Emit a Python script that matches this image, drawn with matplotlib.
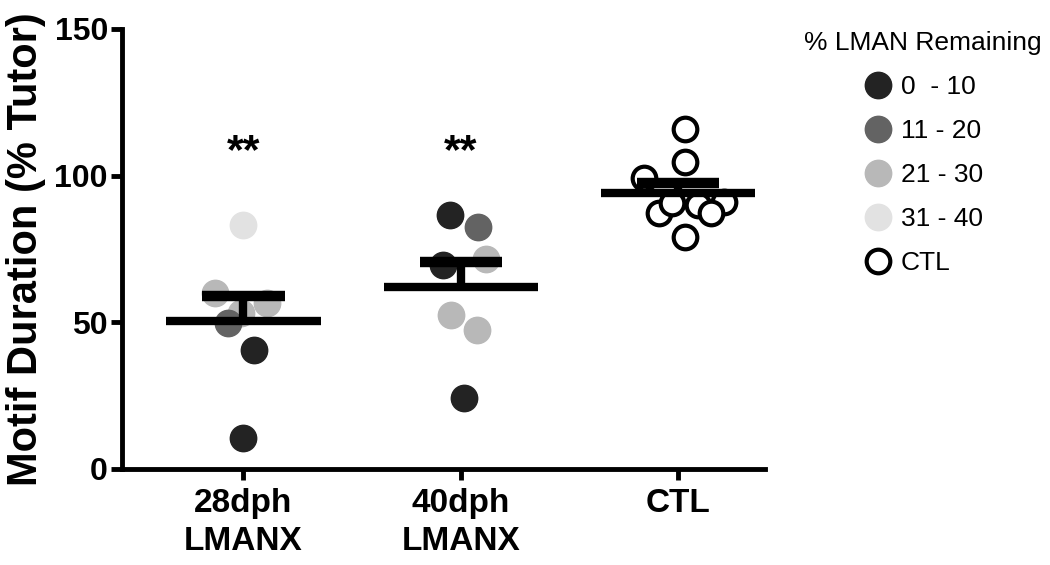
import matplotlib
matplotlib.use("Agg")
import matplotlib.pyplot as plt
from matplotlib.lines import Line2D
import numpy as np

plt.rcParams['font.family'] = ['Liberation Sans', 'DejaVu Sans']

# ---- data ----
groups = ["28dph\nLMANX", "40dph\nLMANX", "CTL"]
legend_labels = ["0  - 10", "11 - 20", "21 - 30", "31 - 40", "CTL"]
legend_title = "% LMAN Remaining"
sig_labels = ["**", "**", ""]

vals_28 = [83.2, 60.0, 56.6, 53.0, 49.8, 40.6, 10.6]
bins_28 = [3, 2, 2, 2, 1, 0, 0]
vals_40 = [86.6, 82.5, 71.6, 69.6, 52.5, 47.4, 24.2]
bins_40 = [0, 1, 2, 0, 2, 2, 0]
vals_ctl = [115.9, 104.7, 99.2, 91.0, 87.3, 90.5, 90.0, 87.3, 79.0]
bins_ctl = [4, 4, 4, 4, 4, 4, 4, 4, 4]

# horizontal scatter offsets (layout only)
jit_28 = [0.0, -0.13, 0.11, -0.01, -0.07, 0.05, 0.0]
jit_40 = [-0.05, 0.08, 0.115, -0.08, -0.046, 0.074, 0.014]
jit_ctl = [0.03, 0.03, -0.157, 0.21, -0.09, -0.03, 0.09, 0.15, 0.03]

bin_colors = ["#232323", "#636363", "#b8b8b8", "#e2e2e2", "white"]

all_vals = [vals_28, vals_40, vals_ctl]
all_bins = [bins_28, bins_40, bins_ctl]
all_jit = [jit_28, jit_40, jit_ctl]

fig = plt.figure(figsize=(10.5, 5.65), dpi=100)
ax = fig.add_axes([0.116, 0.170, 0.6126, 0.779])

ms = 19
for i, (v, b, j) in enumerate(zip(all_vals, all_bins, all_jit)):
    for val, bb, jj in zip(v, b, j):
        if bb == 4:
            ax.plot(i + jj, val, 'o', ms=ms - 2, mfc='white', mec='black', mew=3, zorder=3)
        else:
            ax.plot(i + jj, val, 'o', ms=ms, mfc=bin_colors[bb], mec=bin_colors[bb], zorder=2)
    arr = np.array(v)
    m = arr.mean()
    sem = arr.std(ddof=1) / np.sqrt(len(arr))
    ax.plot([i - 0.355, i + 0.355], [m, m], color='black', lw=6, solid_capstyle='butt', zorder=4)
    ax.plot([i, i], [m, m + sem], color='black', lw=6, solid_capstyle='butt', zorder=4)
    ax.plot([i - 0.19, i + 0.19], [m + sem, m + sem], color='black', lw=7.5, solid_capstyle='butt', zorder=4)
    if sig_labels[i]:
        ax.text(i, 108, sig_labels[i], ha='center', va='center', fontsize=31, fontweight='bold')

ax.set_xlim(-0.56, 2.4)
ax.set_ylim(0, 150)
ax.set_xticks(range(len(groups)))
ax.set_xticklabels(groups, fontsize=24, fontweight='bold', linespacing=1.28)
ax.set_yticks([0, 50, 100, 150])
ax.set_yticklabels(["0", "50", "100", "150"], fontsize=23, fontweight='bold')
ax.set_ylabel("Motif Duration (% Tutor)", fontsize=30, fontweight='bold', labelpad=6)
for s in ['top', 'right']:
    ax.spines[s].set_visible(False)
for s in ['left', 'bottom']:
    ax.spines[s].set_linewidth(3.5)
ax.tick_params(axis='both', width=3.5, length=8, pad=2)
ax.tick_params(axis='x', pad=6)

handles = []
for k, c in enumerate(bin_colors):
    if k == 4:
        handles.append(Line2D([], [], marker='o', ls='none', ms=ms - 2, mfc='white', mec='black', mew=3))
    else:
        handles.append(Line2D([], [], marker='o', ls='none', ms=ms, mfc=c, mec=c))
leg = ax.legend(handles, legend_labels, title=legend_title, loc='upper left',
                bbox_to_anchor=(0.756, 0.964), bbox_transform=fig.transFigure,
                frameon=False, fontsize=19, title_fontsize=19, labelspacing=0.76,
                handletextpad=0.3, handlelength=1.1, borderaxespad=0)

fig.savefig("out.png", dpi=100)
